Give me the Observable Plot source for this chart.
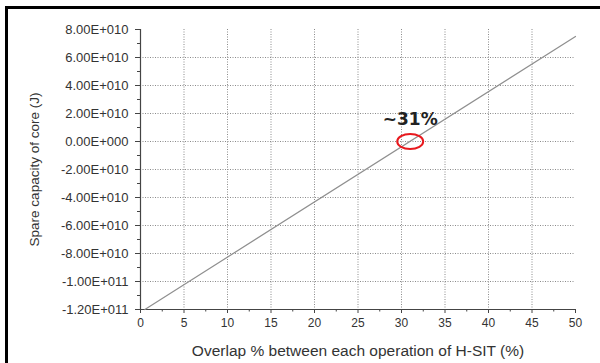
<!DOCTYPE html>
<html>
<head>
<meta charset="utf-8">
<script src="https://cdn.jsdelivr.net/npm/d3@7"></script>
<script src="https://cdn.jsdelivr.net/npm/@observablehq/plot@0.6"></script>
<style>
  html, body { margin: 0; padding: 0; background: #fff; }
  #wrap { position: relative; width: 600px; height: 363px; overflow: hidden; }
  #edge { position: absolute; left: 5px; top: 6px; width: 700px; height: 400px;
          border-left: 3px solid #000; border-top: 3px solid #000; pointer-events: none; }
</style>
</head>
<body>
<div id="wrap"><div id="edge"></div></div>
<script>
// Overlap percentage (x) and spare capacity of the core in joules (y)
const overlapPct = [0.5, 50];
const spareCapacity = [-1.2e11, 7.5e10];

// Axis ticks
const xMajor = [0, 5, 10, 15, 20, 25, 30, 35, 40, 45, 50];
const xMinor = [2.5, 7.5, 12.5, 17.5, 22.5, 27.5, 32.5, 37.5, 42.5, 47.5];
const xGrid = [5, 10, 15, 20, 25, 30, 35, 40, 45];
const yMajor = [-1.2e11, -1e11, -8e10, -6e10, -4e10, -2e10, 0, 2e10, 4e10, 6e10, 8e10];
const yMinor = [-1.1e11, -9e10, -7e10, -5e10, -3e10, -1e10, 1e10, 3e10, 5e10, 7e10];
const yGrid = [-1e11, -8e10, -6e10, -4e10, -2e10, 0, 2e10, 4e10, 6e10];

// Break-even point annotation
const breakEven = [{x: 31, y: 0, label: "~31%"}];

const xLabel = "Overlap % between each operation of H-SIT (%)";
const yLabel = "Spare capacity of core (J)";

const line = overlapPct.map((x, i) => ({x, y: spareCapacity[i]}));

// Scientific notation with a signed three-digit exponent, e.g. 8.00E+010
function sci(d) {
  if (d === 0) return "0.00E+000";
  const e = Math.floor(Math.log10(Math.abs(d)) + 1e-9);
  const m = d / Math.pow(10, e);
  return m.toFixed(2) + "E" + (e >= 0 ? "+" : "-") + String(Math.abs(e)).padStart(3, "0");
}

// Ellipse outline for the highlighted crossing point
const ellipseSymbol = {
  draw(ctx) {
    const rx = 13, ry = 7.5, k = 0.5523;
    ctx.moveTo(rx, 0);
    ctx.bezierCurveTo(rx, ry * k, rx * k, ry, 0, ry);
    ctx.bezierCurveTo(-rx * k, ry, -rx, ry * k, -rx, 0);
    ctx.bezierCurveTo(-rx, -ry * k, -rx * k, -ry, 0, -ry);
    ctx.bezierCurveTo(rx * k, -ry, rx, -ry * k, rx, 0);
    ctx.closePath();
  }
};

const axisColor = "#444";
const textColor = "#333";

const chart = Plot.plot({
  width: 600,
  height: 363,
  marginLeft: 140,
  marginRight: 25,
  marginTop: 29,
  marginBottom: 54,
  style: {fontFamily: "'Liberation Sans', Arial, sans-serif", background: "transparent", color: textColor},
  x: {domain: [0, 50]},
  y: {domain: [-1.2e11, 8e10]},
  marks: [
    Plot.gridX(xGrid, {stroke: "#8a8a8a", strokeOpacity: 1, strokeDasharray: "1,1.5"}),
    Plot.gridY(yGrid, {stroke: "#8a8a8a", strokeOpacity: 1, strokeDasharray: "1,1.5"}),
    Plot.axisX(xMinor, {tickSize: 2.5, text: null, label: null, stroke: axisColor}),
    Plot.axisX(xMajor, {tickSize: 4, tickPadding: 5, fontSize: 12, stroke: axisColor, label: null}),
    Plot.axisY(yMinor, {tickSize: 3, text: null, label: null, stroke: axisColor}),
    Plot.axisY(yMajor, {tickSize: 5, tickPadding: 7, fontSize: 13, tickFormat: sci, stroke: axisColor, label: null}),
    Plot.text([xLabel], {frameAnchor: "bottom", dy: 42, lineAnchor: "middle", textAnchor: "middle", fontSize: 15.5, fill: textColor}),
    Plot.text([yLabel], {frameAnchor: "left", dx: -106, rotate: -90, lineAnchor: "middle", textAnchor: "middle", fontSize: 13.5, fill: textColor}),
    Plot.ruleX([0], {stroke: axisColor, strokeWidth: 1.2}),
    Plot.ruleY([-1.2e11], {stroke: axisColor, strokeWidth: 1.2}),
    Plot.line(line, {x: "x", y: "y", stroke: "#8f8f8f", strokeWidth: 1.2}),
    Plot.dot(breakEven, {x: "x", y: "y", symbol: ellipseSymbol, r: 1, stroke: "#e8191e", strokeWidth: 2, fill: "none"}),
    Plot.text(breakEven, {
      x: "x", y: "y", text: "label", dy: -17, lineAnchor: "bottom", textAnchor: "middle",
      fontSize: 17, fontWeight: "bold", fill: "#222",
      fontFamily: "'DejaVu Sans', sans-serif"
    })
  ]
});

document.getElementById("wrap").prepend(chart);
</script>
</body>
</html>
